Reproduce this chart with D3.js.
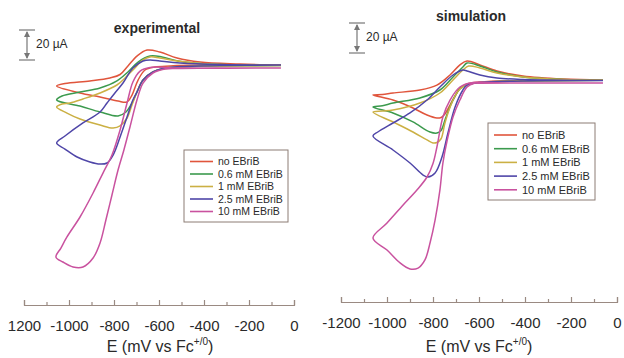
<!DOCTYPE html>
<html>
<head>
<meta charset="utf-8">
<script src="https://cdn.jsdelivr.net/npm/d3@7"></script>
<style>
  body { margin: 0; background: #fff; }
  svg { display: block; font-family: "Liberation Sans", Arial, sans-serif; }
</style>
</head>
<body>
<div id="chart"></div>
<script>
// series labels and colours (shared by both panels)
const seriesNames = ["no EBriB", "0.6 mM EBriB", "1 mM EBriB", "2.5 mM EBriB", "10 mM EBriB"];
const seriesColors = ["#e0553c", "#3c9a4e", "#cbb044", "#4f46a8", "#c9529f"];

// x ticks
const majorTicks = [-1200, -1000, -800, -600, -400, -200, 0];
const minorTicks = [-1100, -900, -700, -500, -300, -100];
const expTickLabels = ["1200", "-1000", "-800", "-600", "-400", "-200", "0"];
const simTickLabels = ["-1200", "-1000", "-800", "-600", "-400", "-200", "0"];

// experimental CVs: [E (mV vs Fc), I (uA)], forward sweep then return
const expNone = [[-58,1.3],[-240,1.3],[-418,1.3],[-551,0.7],[-618,0],[-662,-2],[-693,-8.7],[-720,-18.7],[-742,-23.3],[-782,-22.7],[-862,-20],[-951,-17.3],[-1055,-12.7],
  [-1018,-11],[-907,-9.3],[-818,-7.3],[-773,-5],[-738,0.7],[-698,7.3],[-653,11.3],[-596,10],[-520,6],[-418,3.3],[-240,2],[-58,1.3]];
const exp06 = [[-58,1],[-329,0.7],[-507,0],[-582,-1],[-627,-3.3],[-671,-8.7],[-698,-16.7],[-720,-24],[-747,-30],[-782,-32.7],[-862,-30],[-951,-26],[-1055,-22],
  [-1031,-19.3],[-951,-16.7],[-862,-14],[-787,-9.3],[-738,-3.3],[-693,3.3],[-640,7.3],[-587,6.7],[-516,4],[-418,2.3],[-240,1.3],[-58,1]];
const exp1 = [[-58,1],[-329,0.7],[-507,0],[-582,-1.3],[-627,-3.3],[-671,-8.7],[-698,-16.7],[-720,-25.3],[-742,-34],[-773,-39.3],[-804,-40.7],[-862,-38.7],[-951,-34.7],[-1009,-30.7],[-1055,-26.7],
  [-1031,-24.7],[-996,-24],[-938,-21.3],[-862,-17.3],[-787,-12],[-751,-7.3],[-716,-2],[-671,4.7],[-640,6.7],[-596,6],[-516,4],[-418,2.3],[-240,1.3],[-58,1]];
const exp25 = [[-58,1.3],[-329,1],[-507,0.3],[-582,-1],[-627,-3.3],[-671,-8.7],[-698,-16.7],[-716,-22],[-742,-33.3],[-773,-46.7],[-804,-58.7],[-831,-64],[-862,-64.7],[-907,-63.3],[-964,-60],[-1018,-54.7],[-1055,-50.7],
  [-1018,-46],[-938,-37.3],[-862,-30],[-831,-24],[-796,-17.3],[-760,-10.7],[-716,-0.7],[-671,4],[-640,4.7],[-596,4],[-507,2.7],[-329,1.7],[-58,1.3]];
const exp10 = [[-58,-0.7],[-329,-0.7],[-507,-1],[-573,-1.3],[-627,-4],[-671,-10.7],[-698,-22],[-729,-40],[-756,-55.3],[-782,-68.7],[-809,-85.3],[-836,-102],[-862,-117.3],[-893,-127.3],[-938,-133.3],[-982,-133.3],[-1027,-130],[-1058,-126.7],
  [-1036,-120.7],[-1009,-113.3],[-951,-100],[-893,-84],[-849,-70.7],[-809,-58.7],[-773,-42],[-742,-24],[-716,-10],[-684,-2.7],[-640,-0.3],[-507,-0.7],[-58,-0.7]];

// simulated CVs
const simNone = [[-61,0.7],[-409,0.3],[-596,-0.7],[-652,-2],[-683,-4.7],[-704,-10],[-726,-16],[-748,-22],[-765,-24.3],[-783,-24.7],[-826,-22.7],[-887,-18],[-974,-12.7],[-1061,-9.3],
  [-1020,-9],[-974,-8],[-857,-6],[-783,-2.7],[-726,4],[-683,10.7],[-652,13.3],[-596,10.7],[-522,6.7],[-409,3.3],[-235,1.3],[-61,0.7]];
const sim06 = [[-61,0.5],[-409,0],[-596,-1],[-652,-2.5],[-683,-5.3],[-704,-10],[-726,-17],[-748,-26],[-765,-33],[-783,-34.7],[-813,-34],[-887,-27.3],[-974,-21.3],[-1061,-17.3],
  [-1020,-16.5],[-974,-14.7],[-857,-11.3],[-770,-6],[-713,2.7],[-670,9.3],[-652,12],[-596,10],[-522,6],[-409,2.7],[-235,1],[-61,0.5]];
const sim1 = [[-61,0.5],[-409,0],[-596,-1],[-652,-2.5],[-683,-5.3],[-704,-10],[-726,-17.5],[-748,-28],[-765,-38.5],[-783,-41],[-800,-41.3],[-826,-39.3],[-887,-34],[-974,-27.3],[-1061,-20.7],
  [-1020,-20],[-974,-19.3],[-857,-14.7],[-770,-8],[-713,0.7],[-670,7.3],[-645,10],[-596,8.7],[-522,5.3],[-409,2.7],[-235,1],[-61,0.5]];
const sim25 = [[-61,0.3],[-409,0],[-596,-1],[-652,-2.7],[-670,-6],[-704,-17.3],[-735,-34.7],[-761,-50.7],[-791,-61.3],[-822,-64],[-843,-62.7],[-900,-54.7],[-974,-46],[-1061,-36.7],
  [-1040,-34],[-974,-28],[-900,-21.3],[-826,-12.7],[-770,-4],[-713,4],[-670,7.3],[-652,6.7],[-596,4],[-522,2],[-409,1],[-61,0.3]];
const sim10 = [[-61,-1.3],[-409,-1.3],[-596,-1.5],[-620,-1.5],[-652,-4],[-683,-12.7],[-713,-24],[-739,-40],[-757,-54.7],[-770,-72.7],[-791,-92.7],[-813,-108],[-835,-119.3],[-865,-124.7],[-900,-125.3],[-943,-121.3],[-1000,-112.7],[-1061,-104.7],
  [-1000,-94.7],[-930,-82.7],[-870,-72.7],[-826,-64],[-800,-55],[-783,-44],[-757,-24],[-726,-12.7],[-683,-4],[-626,-1],[-500,-1.3],[-61,-1.3]];

const expSeries = [expNone, exp06, exp1, exp25, exp10];
const simSeries = [simNone, sim06, sim1, sim25, sim10];

const width = 624, height = 358;
const svg = d3.select("#chart").append("svg")
  .attr("width", width)
  .attr("height", height);

const axisColor = "#9a8a82";
const textColor = "#2a2a2a";

function drawPanel(cfg) {
  const x = d3.scaleLinear().domain([-1200, 0]).range([cfg.x0, cfg.x1]);
  const y = d3.scaleLinear().domain([0, 20]).range([cfg.yBase, cfg.yBase - 30]);
  const g = svg.append("g");

  // axis, major and minor ticks pointing up
  const major = g.append("g")
    .attr("transform", "translate(0," + cfg.axisY + ")")
    .call(d3.axisBottom(x).tickValues(majorTicks).tickSize(-5).tickPadding(15)
      .tickFormat((d, i) => cfg.tickLabels[i]));
  major.select(".domain").attr("stroke", axisColor).attr("stroke-width", 1.2);
  major.selectAll(".tick line").attr("stroke", axisColor).attr("stroke-width", 1.2);
  major.selectAll(".tick text")
    .attr("fill", textColor)
    .style("font-size", "15px")
    .style("font-family", "Liberation Sans, Arial, sans-serif");

  const minor = g.append("g")
    .attr("transform", "translate(0," + cfg.axisY + ")")
    .call(d3.axisBottom(x).tickValues(minorTicks).tickSize(-3).tickFormat(""));
  minor.select(".domain").remove();
  minor.selectAll(".tick line").attr("stroke", axisColor).attr("stroke-width", 1.2);

  // axis title
  const title = g.append("text")
    .attr("x", cfg.titleX)
    .attr("y", 352)
    .attr("text-anchor", "middle")
    .attr("fill", textColor)
    .style("font-size", "16px");
  title.append("tspan").text("E (mV vs Fc");
  title.append("tspan").attr("dy", -7).style("font-size", "10px").text("+/0");
  title.append("tspan").attr("dy", 7).text(")");

  // panel heading
  g.append("text")
    .attr("x", cfg.headX)
    .attr("y", cfg.headY)
    .attr("text-anchor", "middle")
    .attr("fill", textColor)
    .style("font-size", "14px")
    .style("font-weight", "bold")
    .text(cfg.heading);

  // 20 uA scale bar
  const barTop = cfg.barTop;
  const barBot = barTop + (y(0) - y(20));
  const bx = cfg.barX;
  const sb = g.append("g").attr("stroke", "#777").attr("fill", "#777");
  sb.append("line").attr("x1", bx).attr("x2", bx).attr("y1", barTop + 2).attr("y2", barBot - 2).attr("stroke-width", 1.2);
  sb.append("line").attr("x1", bx - 8).attr("x2", bx + 8).attr("y1", barTop).attr("y2", barTop).attr("stroke-width", 1.2);
  sb.append("line").attr("x1", bx - 8).attr("x2", bx + 8).attr("y1", barBot).attr("y2", barBot).attr("stroke-width", 1.2);
  sb.append("path").attr("stroke", "none")
    .attr("d", `M${bx},${barTop + 1}L${bx - 3},${barTop + 7}L${bx + 3},${barTop + 7}Z`);
  sb.append("path").attr("stroke", "none")
    .attr("d", `M${bx},${barBot - 1}L${bx - 3},${barBot - 7}L${bx + 3},${barBot - 7}Z`);
  g.append("text")
    .attr("x", bx + 9)
    .attr("y", barTop + 18)
    .attr("fill", textColor)
    .style("font-size", "12px")
    .text("20 \u00B5A");

  // curves
  const line = d3.line()
    .x(d => x(d[0]))
    .y(d => y(d[1]))
    .curve(d3.curveCatmullRom.alpha(0.5));

  g.selectAll("path.cv")
    .data(cfg.series)
    .join("path")
    .attr("class", "cv")
    .attr("d", line)
    .attr("fill", "none")
    .attr("stroke", (d, i) => seriesColors[i])
    .attr("stroke-width", 1.5)
    .attr("stroke-linejoin", "round");

  // legend
  const lg = g.append("g").attr("transform", `translate(${cfg.legX},${cfg.legY})`);
  lg.append("rect")
    .attr("width", cfg.legW)
    .attr("height", cfg.legH)
    .attr("fill", "#fff")
    .attr("stroke", "#8c7c74")
    .attr("stroke-width", 1);
  const rows = lg.selectAll("g.row")
    .data(seriesNames)
    .join("g")
    .attr("class", "row")
    .attr("transform", (d, i) => `translate(0,${cfg.legRow0 + i * cfg.legStep})`);
  rows.append("line")
    .attr("x1", 6).attr("x2", 29)
    .attr("stroke", (d, i) => seriesColors[i])
    .attr("stroke-width", 1.6);
  rows.append("text")
    .attr("x", 34)
    .attr("dy", "0.35em")
    .attr("fill", textColor)
    .style("font-size", cfg.legFont)
    .text(d => d);
}

drawPanel({
  x0: 24, x1: 294, yBase: 67, axisY: 305, tickLabels: expTickLabels,
  titleX: 160, heading: "experimental", headX: 157, headY: 33,
  barX: 27, barTop: 30, series: expSeries,
  legX: 184, legY: 150, legW: 104, legH: 72, legRow0: 11.5, legStep: 12.5, legFont: "10.5px"
});

drawPanel({
  x0: 341, x1: 617, yBase: 81, axisY: 302, tickLabels: simTickLabels,
  titleX: 479, heading: "simulation", headX: 471, headY: 21,
  barX: 357, barTop: 23, series: simSeries,
  legX: 488, legY: 123, legW: 107, legH: 77, legRow0: 12, legStep: 13.7, legFont: "11px"
});
</script>
</body>
</html>
